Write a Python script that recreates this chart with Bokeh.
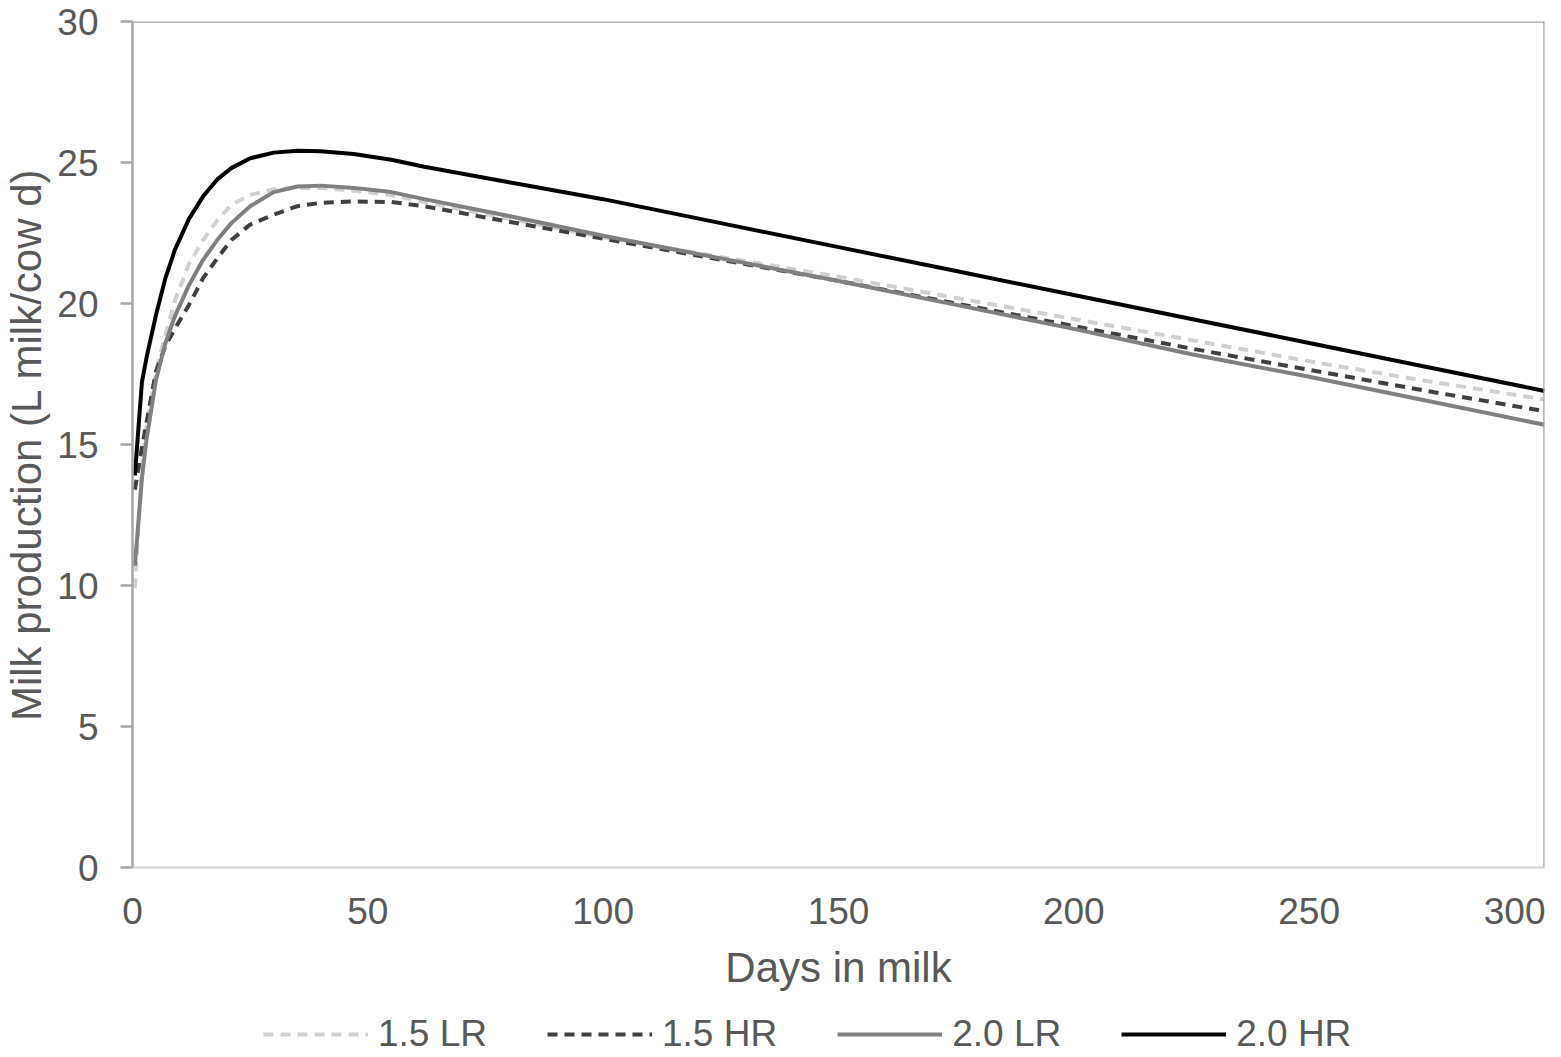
from bokeh.plotting import figure
from bokeh.layouts import column
from bokeh.models import Range1d, FixedTicker, Legend, LegendItem, Span
from bokeh.embed import file_html
from bokeh.resources import INLINE

days = [0.5, 2, 3, 5, 7, 9, 12, 15, 18, 21, 25, 30, 35, 40, 47, 55, 62, 80,
        100, 125, 150, 175, 200, 225, 250, 275, 300]

lr15 = [9.9, 14.2, 15.7, 17.6, 18.9, 20.1, 21.4, 22.25, 22.95, 23.5, 23.85, 24.05,
        24.1, 24.1, 24.0, 23.85, 23.6, 23.0, 22.35, 21.65, 20.95, 20.2, 19.45,
        18.7, 17.95, 17.25, 16.6]
hr15 = [13.4, 14.9, 15.8, 17.6, 18.5, 19.1, 19.95, 20.9, 21.6, 22.25, 22.8, 23.15,
        23.45, 23.57, 23.62, 23.6, 23.45, 22.9, 22.3, 21.55, 20.8, 20.0, 19.2,
        18.4, 17.65, 16.9, 16.18]
lr20 = [10.7, 13.8, 15.2, 17.3, 18.6, 19.55, 20.65, 21.55, 22.25, 22.85, 23.45, 23.95,
        24.15, 24.18, 24.1, 23.95, 23.7, 23.1, 22.4, 21.6, 20.8, 19.95, 19.1,
        18.2, 17.4, 16.55, 15.7]
hr20 = [13.9, 17.2, 18.1, 19.6, 20.9, 21.9, 23.0, 23.8, 24.4, 24.8, 25.15, 25.35,
        25.42, 25.4, 25.3, 25.1, 24.85, 24.3, 23.7, 22.85, 22.0, 21.15, 20.3,
        19.45, 18.6, 17.75, 16.9]

series_names = ["1.5 LR", "1.5 HR", "2.0 LR", "2.0 HR"]
x_ticks = [0, 50, 100, 150, 200, 250, 300]
y_ticks = [0, 5, 10, 15, 20, 25, 30]

FONT = "Liberation Sans"
TXT = "#595959"
styles = [dict(line_color="#d0d0d0", line_width=4, line_dash="10 7"),
          dict(line_color="#404040", line_width=4, line_dash="10 7"),
          dict(line_color="#808080", line_width=4),
          dict(line_color="#000000", line_width=4)]
series = [lr15, hr15, lr20, hr20]

p = figure(width=1545, height=1007, x_range=Range1d(0, 300), y_range=Range1d(0, 30),
           output_backend="svg", toolbar_location=None,
           min_border_left=123, min_border_top=21, min_border_right=1,
           min_border_bottom=140)
p.grid.visible = False
p.outline_line_color = None
p.background_fill_color = "white"
p.border_fill_color = "white"

# axes
xa = p.xaxis[0]
xa.ticker = FixedTicker(ticks=x_ticks)
xa.axis_line_color = "#d9d9d9"
xa.axis_line_width = 2.5
xa.major_tick_out = 0
xa.major_tick_in = 0
xa.minor_tick_out = 0
xa.minor_tick_in = 0
xa.major_label_standoff = 30
xa.major_label_text_font = FONT
xa.major_label_text_font_size = "37px"
xa.major_label_text_color = TXT
xa.axis_label = "Days in milk"
xa.axis_label_standoff = 17
xa.axis_label_text_font = FONT
xa.axis_label_text_font_size = "42px"
xa.axis_label_text_font_style = "normal"
xa.axis_label_text_color = TXT

ya = p.yaxis[0]
ya.ticker = FixedTicker(ticks=y_ticks)
ya.axis_line_color = "#a6a6a6"
ya.axis_line_width = 2.5
ya.major_tick_out = 12
ya.major_tick_in = 0
ya.minor_tick_out = 0
ya.minor_tick_in = 0
ya.major_tick_line_color = "#a6a6a6"
ya.major_tick_line_width = 2.5
ya.major_label_standoff = 22
ya.major_label_text_font = FONT
ya.major_label_text_font_size = "37px"
ya.major_label_text_color = TXT
ya.axis_label = "Milk production (L milk/cow d)"
ya.axis_label_standoff = 4
ya.axis_label_text_font = FONT
ya.axis_label_text_font_size = "42px"
ya.axis_label_text_font_style = "normal"
ya.axis_label_text_color = TXT

# frame top / right borders
p.add_layout(Span(location=30, dimension="width", line_color="#a6a6a6", line_width=2.5))
p.add_layout(Span(location=300, dimension="height", line_color="#a6a6a6", line_width=2.5))

for yv, st in zip(series, styles):
    p.line(days, yv, **st)

# legend strip below the chart (its lines lie outside its visible range)
lg = figure(width=1545, height=49, x_range=Range1d(0, 1), y_range=Range1d(-2, -1),
            output_backend="svg", toolbar_location=None,
            x_axis_location=None, y_axis_location=None,
            min_border_left=0, min_border_right=0, min_border_top=0,
            min_border_bottom=0)
lg.grid.visible = False
lg.outline_line_color = None
lg.background_fill_color = "white"
lg.border_fill_color = "white"
keys = [lg.line(days, yv, **st) for yv, st in zip(series, styles)]

legend = Legend(items=[LegendItem(label=n, renderers=[r])
                       for n, r in zip(series_names, keys)],
                orientation="horizontal", location=(131, 1),
                border_line_color=None, background_fill_alpha=0,
                glyph_width=105, glyph_height=20, label_standoff=10, spacing=60,
                padding=0, margin=0,
                label_text_font=FONT, label_text_font_size="37px",
                label_text_color=TXT)
lg.add_layout(legend, "center")

open("out.html", "w").write(file_html(column(p, lg), INLINE))
